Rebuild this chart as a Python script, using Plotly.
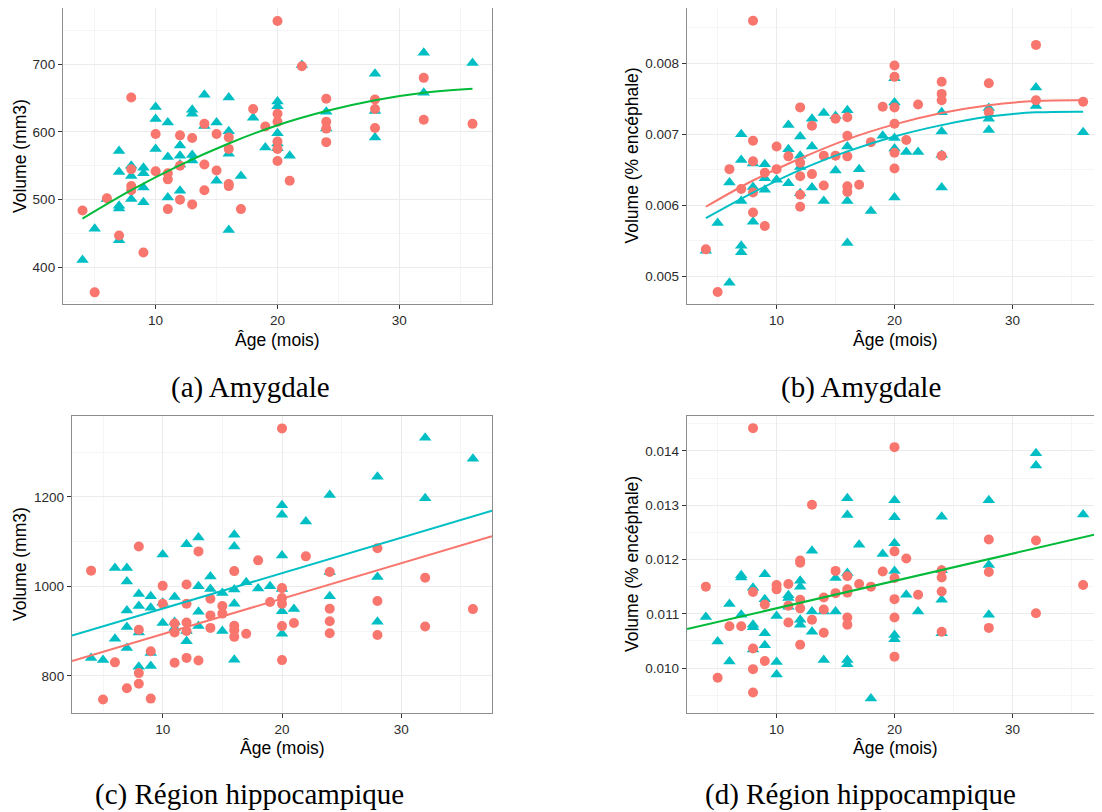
import plotly.graph_objects as go
import numpy as np

RED = "#F8766D"
TEAL = "#00BFC4"
GREEN = "#00BA38"

# ---------------- Panel (a) Amygdale, volume mm3 ----------------
a_age_red = [4,5,6,7,8,8,8,8,9,10,10,11,11,11,12,12,12,13,13,14,14,14,15,15,16,16,16,16,17,18,19,20,20,20,20,20,20,21,22,24,24,24,24,28,28,28,32,32,36]
a_vol_red = [484,363,502,447,651,545,520,514,422,597,542,539,530,486,595,550,500,591,493,612,552,514,597,543,592,575,523,520,486,634,608,764,627,615,586,575,557,528,697,649,615,605,585,648,634,606,680,618,612]
a_age_teal = [4,5,6,7,7,7,7,7,8,8,8,9,9,9,9,10,10,10,11,11,11,12,12,12,12,13,13,13,13,14,14,15,15,16,16,16,16,17,18,19,20,20,20,20,20,21,22,24,24,28,28,28,32,32,36]
a_vol_teal = [411,457,501,572,541,491,487,440,550,535,501,547,539,518,496,637,619,575,614,563,503,580,565,552,513,633,627,566,558,655,609,614,528,651,601,568,455,535,621,577,645,638,598,583,576,565,699,630,605,686,631,592,717,658,702]
fit_age = [4,8,12,16,20,24,28,32,36]
a_fit_all = [472,514,551,583,610,631,647,658,664]

# ---------------- Panel (b) Amygdale, % encephale (values x 1e-3) ----------------
b_age_red = [4,5,6,7,8,8,8,8,8,9,9,10,10,11,12,12,12,12,12,13,13,14,14,15,15,16,16,16,16,16,17,18,19,20,20,20,20,20,20,21,22,24,24,24,24,28,28,32,32,36]
b_pct_red = [5.38,4.78,6.51,6.23,8.60,6.91,6.62,6.18,5.90,5.71,6.46,6.83,6.51,6.69,7.38,6.60,6.41,6.15,5.98,7.12,6.44,6.70,6.28,7.22,6.70,7.24,6.98,6.69,6.27,6.19,6.29,6.89,7.39,7.97,7.81,7.38,7.15,6.74,6.52,6.92,7.42,7.74,7.57,7.48,6.70,7.72,7.31,8.26,7.48,7.46]
b_age_teal = [4,5,6,6,7,7,7,7,7,8,8,8,9,9,9,10,11,11,11,12,12,12,12,13,13,13,14,14,15,15,16,16,16,16,17,18,19,20,20,20,20,20,21,22,24,24,24,24,28,28,28,32,32,36]
b_pct_teal = [5.36,5.75,4.91,6.32,7.00,6.64,6.06,5.43,5.34,6.59,6.26,5.77,6.58,6.38,6.22,6.36,7.13,6.79,6.31,6.97,6.70,6.54,6.17,7.22,6.83,6.25,7.30,6.06,7.26,6.49,7.34,6.83,6.06,5.47,6.51,5.92,6.98,7.79,7.45,6.95,6.80,6.11,6.75,6.75,7.31,7.04,6.71,6.25,7.37,7.22,7.06,7.66,7.40,7.03]
b_fit_red = [5.98,6.35,6.66,6.93,7.14,7.30,7.41,7.47,7.48]
b_fit_teal = [5.82,6.18,6.50,6.76,6.97,7.13,7.25,7.31,7.32]

# ---------------- Panel (c) Region hippocampique, volume mm3 ----------------
c_age_red = [4,5,6,7,8,8,8,8,9,9,10,10,11,11,11,12,12,12,12,12,13,13,14,14,14,15,15,16,16,16,16,17,18,19,20,20,20,20,20,20,21,22,24,24,24,24,28,28,28,32,32,36]
c_vol_red = [1035,747,830,772,1089,903,806,782,855,749,1001,961,917,897,829,1004,961,919,900,840,1078,834,972,935,907,956,939,1034,912,902,887,894,1058,965,1353,996,974,961,911,835,918,1067,1032,950,922,895,1085,967,891,1019,910,949]
c_age_teal = [4,5,6,6,7,7,7,7,7,8,8,8,8,9,9,9,9,10,10,10,11,11,11,12,12,12,13,13,13,13,14,14,15,15,16,16,16,16,16,17,18,19,20,20,20,20,20,20,21,22,24,24,24,28,28,28,32,32,36]
c_vol_teal = [840,835,1041,883,1041,1011,946,909,862,983,956,897,820,978,952,851,822,1071,963,918,976,920,907,1094,900,877,1109,1000,943,911,1022,994,985,900,1115,1089,993,961,836,1009,995,1000,1181,1160,1069,994,944,894,949,1145,1204,1032,978,1245,1021,921,1332,1197,1285]
line_age = [2.4, 37.6]
c_line_red = [833, 1112]
c_line_teal = [890, 1169]

# ---------------- Panel (d) Region hippocampique, % encephale (values x 1e-3) ----------------
d_age_red = [4,5,6,7,8,8,8,8,8,9,9,10,10,11,11,11,12,12,12,12,12,13,13,14,14,14,15,15,16,16,16,16,16,17,18,19,20,20,20,20,20,20,21,22,24,24,24,24,28,28,28,32,32,36]
d_pct_red = [11.50,9.82,10.77,10.77,14.42,11.40,10.36,9.98,9.55,11.17,10.13,11.53,11.45,11.55,11.15,10.84,11.98,11.94,11.26,11.10,10.43,13.01,10.89,11.30,11.08,10.65,11.79,11.38,11.69,11.45,11.39,10.93,10.80,11.55,11.50,11.78,14.07,12.15,11.66,11.27,10.93,10.21,12.02,11.35,11.80,11.67,11.41,10.67,12.37,11.77,10.74,12.35,11.01,11.53]
d_age_teal = [4,5,6,6,7,7,7,8,8,8,8,9,9,9,9,10,10,10,11,11,11,12,12,12,12,13,13,13,14,14,15,15,16,16,16,16,16,17,18,19,20,20,20,20,20,20,21,22,24,24,24,24,28,28,28,32,32,36]
d_pct_teal = [10.94,10.49,11.18,10.12,11.71,11.67,10.98,11.48,10.80,10.75,10.34,11.73,11.27,10.64,10.42,10.96,10.11,9.88,11.34,11.29,11.13,11.61,11.50,10.89,10.80,12.16,11.04,10.67,11.04,10.15,11.66,11.04,13.13,12.82,11.75,10.15,10.07,12.27,9.44,12.10,13.09,12.78,12.30,11.79,10.61,10.53,11.35,11.04,12.79,11.80,11.26,10.64,13.09,11.90,10.98,13.96,13.73,12.83]
d_line_all = [10.72, 12.49]

x_title = "Âge (mois)"
y_title_mm3 = "Volume (mm3)"
y_title_pct = "Volume (% encéphale)"
captions = ["(a) Amygdale", "(b) Amygdale", "(c) Région hippocampique", "(d) Région hippocampique"]

# page body has an 8px margin: the figure starts at (8, 8) in the window
OFF = 8
W, H = 1102 - OFF, 812 - OFF
def px(x): return (x - OFF) / W
def py(y): return 1 - (y - OFF) / H

milli = lambda v: (np.array(v) / 1000.0).tolist()

fig = go.Figure()

def pts(x, y, color, symbol, size, xa, ya):
    fig.add_trace(go.Scatter(x=x, y=y, mode="markers", xaxis=xa, yaxis=ya,
                             marker=dict(color=color, symbol=symbol, size=size, line=dict(width=0)),
                             showlegend=False, hoverinfo="skip"))

def line(x, y, color, xa, ya, shape="spline"):
    fig.add_trace(go.Scatter(x=x, y=y, mode="lines", xaxis=xa, yaxis=ya,
                             line=dict(color=color, width=2, shape=shape),
                             showlegend=False, hoverinfo="skip"))

TRI = 11
CIR = 10
# (a)
pts(a_age_teal, a_vol_teal, TEAL, "triangle-up", TRI, "x", "y")
pts(a_age_red, a_vol_red, RED, "circle", CIR, "x", "y")
line(fit_age, a_fit_all, GREEN, "x", "y")
# (b)
pts(b_age_teal, milli(b_pct_teal), TEAL, "triangle-up", TRI, "x2", "y2")
pts(b_age_red, milli(b_pct_red), RED, "circle", CIR, "x2", "y2")
line(fit_age, milli(b_fit_red), RED, "x2", "y2")
line(fit_age, milli(b_fit_teal), TEAL, "x2", "y2")
# (c)
pts(c_age_teal, c_vol_teal, TEAL, "triangle-up", TRI, "x3", "y3")
pts(c_age_red, c_vol_red, RED, "circle", CIR, "x3", "y3")
line(line_age, c_line_teal, TEAL, "x3", "y3", "linear")
line(line_age, c_line_red, RED, "x3", "y3", "linear")
# (d)
pts(d_age_teal, milli(d_pct_teal), TEAL, "triangle-up", TRI, "x4", "y4")
pts(d_age_red, milli(d_pct_red), RED, "circle", CIR, "x4", "y4")
line(line_age, milli(d_line_all), GREEN, "x4", "y4", "linear")

TICKFONT = dict(family="Liberation Sans, Arial, sans-serif", size=13.5, color="#2b2b2b")
BORDER = "#8c8c8c"

def xaxis(x0, x1, anchor):
    return dict(domain=[max(px(x0), 0.0), min(px(x1), 1.0)], anchor=anchor, range=[2.4, 37.6],
                tick0=0, dtick=10, showgrid=True, gridcolor="#ebebeb", gridwidth=1,
                minor=dict(tick0=0, dtick=5, showgrid=True, gridcolor="#f5f5f5", gridwidth=0.6),
                ticks="outside", ticklen=4, tickwidth=1, tickcolor="#333333",
                showline=True, linecolor=BORDER, linewidth=1.3, mirror=True,
                zeroline=False, tickfont=TICKFONT)

def yaxis(y0, y1, anchor, rng, dtick, fmt=None, mirror=True):
    d = dict(domain=[py(y1), py(y0)], anchor=anchor, range=rng,
             tick0=0, dtick=dtick, showgrid=True, gridcolor="#ebebeb", gridwidth=1,
             minor=dict(tick0=0, dtick=dtick / 2, showgrid=True, gridcolor="#f5f5f5", gridwidth=0.6),
             ticks="outside", ticklen=4, tickwidth=1, tickcolor="#333333",
             showline=True, linecolor=BORDER, linewidth=1.3, mirror=mirror,
             zeroline=False, tickfont=TICKFONT)
    if fmt:
        d["tickformat"] = fmt
    return d

fig.update_layout(
    width=W, height=H, margin=dict(l=0, r=0, t=0, b=0),
    paper_bgcolor="white", plot_bgcolor="white", showlegend=False,
    xaxis=xaxis(63, 492, "y"),
    yaxis=yaxis(8, 304, "x", [345.8, 783.2], 100),
    xaxis2=xaxis(687, 1103, "y2"),
    yaxis2=yaxis(8, 304, "x2", [0.00461, 0.00878], 0.001, ".3f", mirror=False),
    xaxis3=xaxis(72, 492, "y3"),
    yaxis3=yaxis(416, 713, "x3", [716.8, 1380.7], 200),
    xaxis4=xaxis(687, 1103, "y4"),
    yaxis4=yaxis(416, 713, "x4", [0.009172, 0.014644], 0.001, ".3f", mirror=False),
)

TITLEFONT = dict(family="Liberation Sans, Arial, sans-serif", size=17.5, color="black")
CAPFONT = dict(family="Liberation Serif, Times New Roman, serif", size=29, color="black")

ann = []
def text(x, y, t, font, angle=0):
    ann.append(dict(x=px(x), y=py(y), xref="paper", yref="paper", text=t, showarrow=False,
                    font=font, textangle=angle, xanchor="center", yanchor="middle"))

text(277.5, 340, x_title, TITLEFONT)
text(895, 340, x_title, TITLEFONT)
text(282, 748, x_title, TITLEFONT)
text(895, 748, x_title, TITLEFONT)
text(20, 156, y_title_mm3, TITLEFONT, -90)
text(631.5, 156, y_title_pct, TITLEFONT, -90)
text(19.5, 564.5, y_title_mm3, TITLEFONT, -90)
text(631.5, 564.5, y_title_pct, TITLEFONT, -90)
text(250, 388, captions[0], CAPFONT)
text(861, 388, captions[1], CAPFONT)
text(249, 794, captions[2], CAPFONT)
text(860, 794, captions[3], CAPFONT)
fig.update_layout(annotations=ann)

fig.write_html("out.html")
